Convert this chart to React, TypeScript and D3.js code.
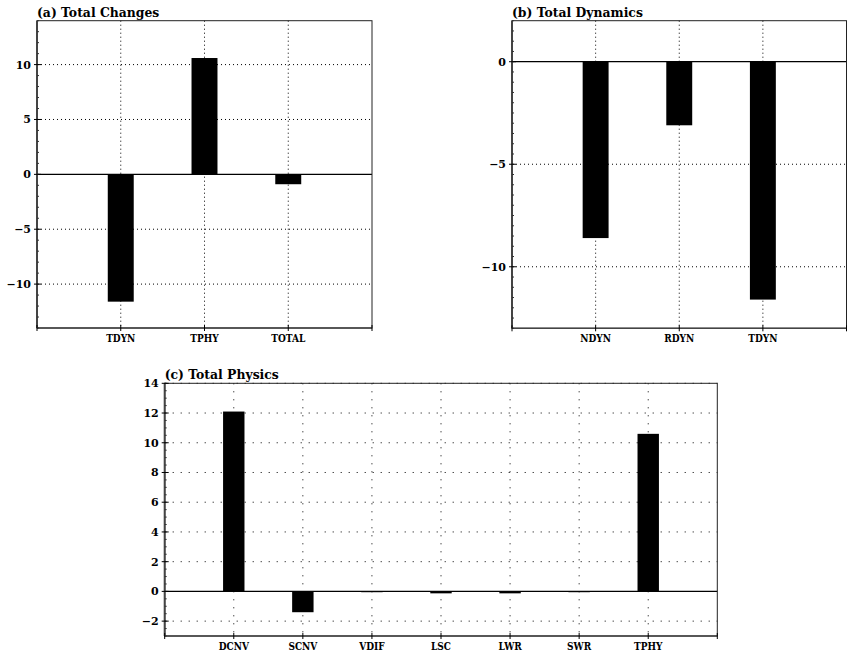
import React from 'react';
import * as d3 from 'd3';

// (a) Total Changes
const catsA = ['TDYN', 'TPHY', 'TOTAL'];
const valsA = [-11.6, 10.6, -0.9];
const ticksA = [-10, -5, 0, 5, 10];

// (b) Total Dynamics
const catsB = ['NDYN', 'RDYN', 'TDYN'];
const valsB = [-8.6, -3.1, -11.6];
const ticksB = [-10, -5, 0];

// (c) Total Physics
const catsC = ['DCNV', 'SCNV', 'VDIF', 'LSC', 'LWR', 'SWR', 'TPHY'];
const valsC = [12.1, -1.4, -0.05, -0.13, -0.13, -0.03, 10.6];
const ticksC = [-2, 0, 2, 4, 6, 8, 10, 12, 14];

const FONT = '"DejaVu Serif", "Liberation Serif", serif';

type PanelProps = {
  title: string;
  cats: string[];
  vals: number[];
  ticks: number[];
  yDomain: [number, number];
  x0: number; x1: number; y0: number; y1: number;
  dots: string;
  minor: number;
};

function Panel(props: PanelProps) {
  const { title, cats, vals, ticks, yDomain, x0, x1, y0, y1, dots, minor } = props;
  const x = d3.scaleLinear().domain([0, cats.length + 1]).range([x0, x1]);
  const y = d3.scaleLinear().domain(yDomain).range([y1, y0]);
  const bw = (x(1) - x(0)) * 0.31;
  const minorTicks = d3.range(yDomain[0], yDomain[1] + 1e-6, minor);

  return (
    <g>
      {/* grid */}
      {ticks.filter(t => t !== 0).map(t => (
        <line key={'h' + t} x1={x0} x2={x1} y1={y(t)} y2={y(t)}
          stroke="#000" strokeWidth={1} strokeDasharray={dots} />
      ))}
      {cats.map((c, i) => (
        <line key={'v' + c} x1={x(i + 1)} x2={x(i + 1)} y1={y0} y2={y1}
          stroke="#000" strokeWidth={1} strokeDasharray={dots} />
      ))}
      {/* bars */}
      {vals.map((v, i) => (
        <rect key={'b' + i} x={x(i + 1) - bw / 2} width={bw}
          y={Math.min(y(v), y(0))} height={Math.max(Math.abs(y(v) - y(0)), 0.8)}
          fill="#000" />
      ))}
      {/* zero line */}
      <line x1={x0} x2={x1} y1={y(0)} y2={y(0)} stroke="#000" strokeWidth={1.2} />
      {/* frame */}
      <rect x={x0} y={y0} width={x1 - x0} height={y1 - y0} fill="none" stroke="#222" strokeWidth={1} />
      <line x1={x0} x2={x0} y1={y0} y2={y1} stroke="#444" strokeWidth={2} />
      <line x1={x0} x2={x1} y1={y1} y2={y1} stroke="#444" strokeWidth={1.5} />
      {minorTicks.map((t, i) => (
        <line key={'m' + i} x1={x0} x2={x0 + 2} y1={y(t)} y2={y(t)} stroke="#333" strokeWidth={1} />
      ))}
      {ticks.map(t => (
        <g key={'t' + t}>
          <line x1={x0 - 3} x2={x0 + 4} y1={y(t)} y2={y(t)} stroke="#000" strokeWidth={1} />
          <text x={x0 - 6} y={y(t)} dy="0.36em" textAnchor="end" fontFamily={FONT}
            fontWeight="bold" fontSize={11}>{t < 0 ? '\u2212' + Math.abs(t) : t}</text>
        </g>
      ))}
      {d3.range(0, cats.length + 2).map(i => (
        <line key={'xt' + i} x1={x(i)} x2={x(i)} y1={y1 - 3} y2={y1 + 3} stroke="#000" strokeWidth={1} />
      ))}
      {cats.map((c, i) => (
        <text key={'xl' + c} transform={`translate(${x(i + 1)},${y1 + 14}) scale(0.82,1)`}
          textAnchor="middle" fontFamily={FONT} fontWeight="bold" fontSize={11}>{c}</text>
      ))}
      <text x={x0} y={y0 - 4} fontFamily={FONT} fontWeight="bold" fontSize={12.4}>{title}</text>
    </g>
  );
}

export default function App() {
  return (
    <svg width={848} height={653} style={{ position: 'absolute', left: 0, top: 0, background: '#fff' }}>
      <rect width={848} height={653} fill="#fff" />
      <Panel title="(a) Total Changes" cats={catsA} vals={valsA} ticks={ticksA}
        yDomain={[-14, 14]} x0={37} x1={372} y0={20.7} y1={328} dots="1,3" minor={1} />
      <Panel title="(b) Total Dynamics" cats={catsB} vals={valsB} ticks={ticksB}
        yDomain={[-13, 2]} x0={512} x1={846.5} y0={20.7} y1={328.3} dots="1,3" minor={0.5} />
      <Panel title="(c) Total Physics" cats={catsC} vals={valsC} ticks={ticksC}
        yDomain={[-3, 14]} x0={164.7} x1={717.3} y0={383.3} y1={636} dots="1,7" minor={0.5} />
    </svg>
  );
}
